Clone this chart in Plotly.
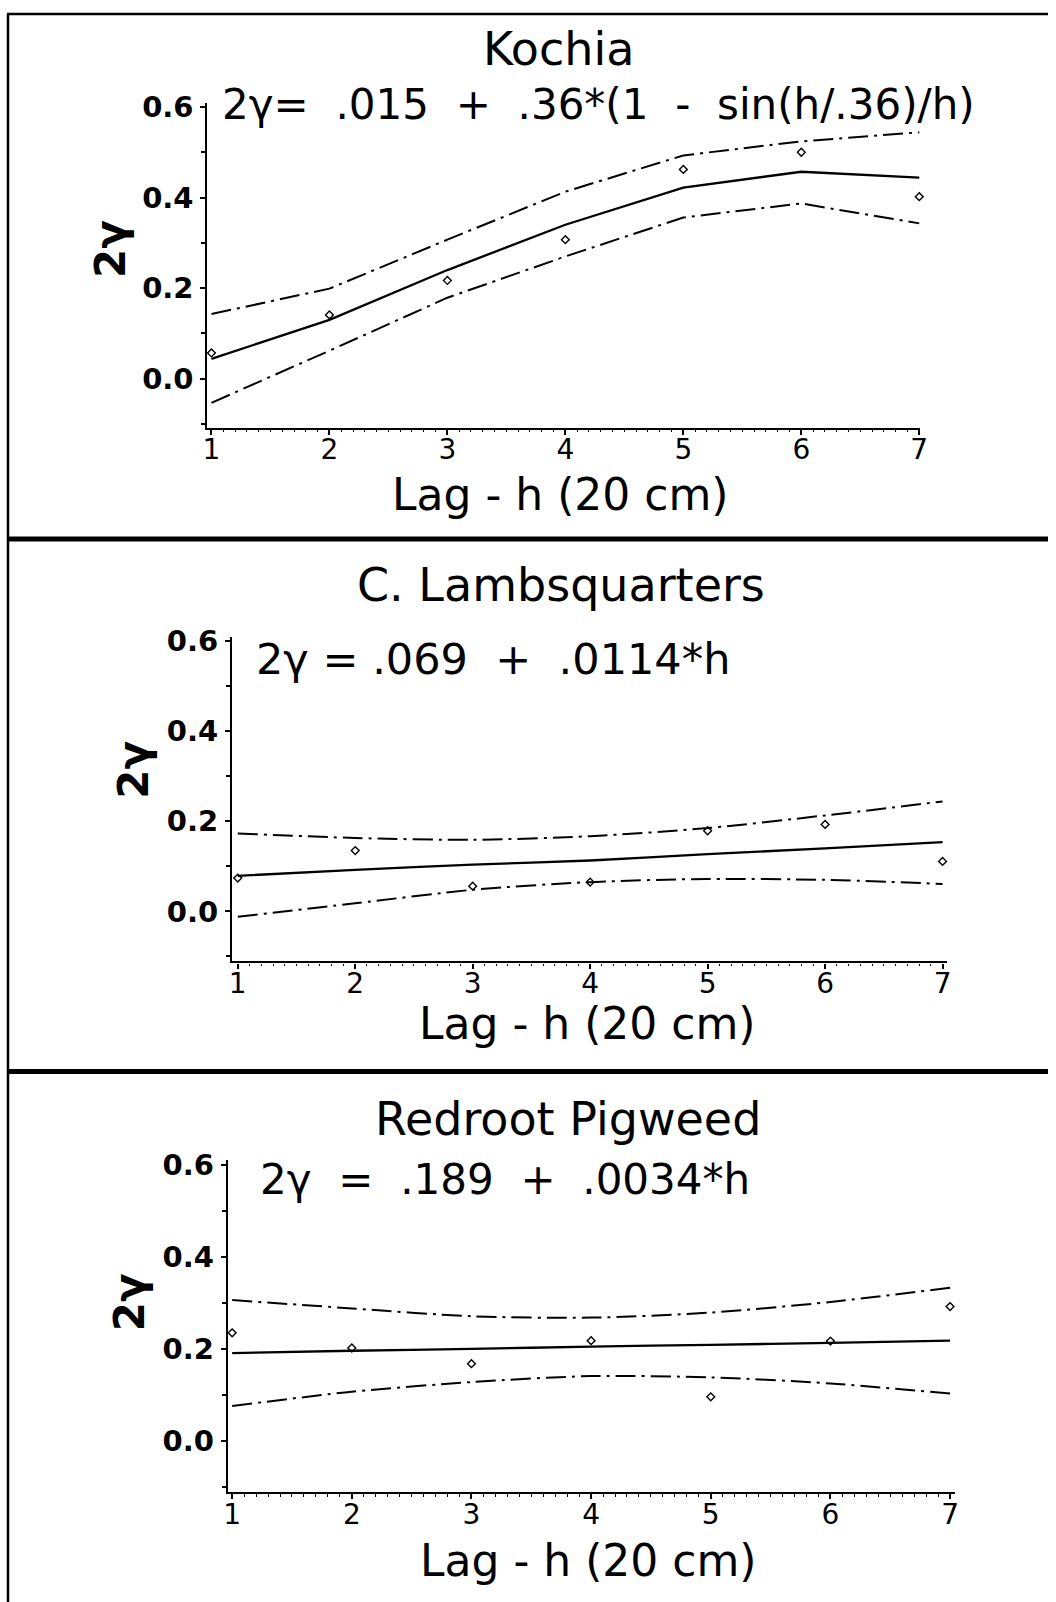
import plotly.graph_objects as go

# ---------------- data ----------------
lag = [1, 2, 3, 4, 5, 6, 7]

kochia_obs = [0.057, 0.141, 0.217, 0.307, 0.462, 0.500, 0.402]
kochia_fit = [0.044, 0.130, 0.240, 0.340, 0.422, 0.457, 0.444]
kochia_upper = [0.143, 0.199, 0.307, 0.413, 0.493, 0.524, 0.544]
kochia_lower = [-0.053, 0.062, 0.179, 0.270, 0.356, 0.387, 0.343]

lamb_obs = [0.074, 0.135, 0.056, 0.065, 0.179, 0.193, 0.111]
lamb_fit = [0.079, 0.092, 0.104, 0.113, 0.127, 0.140, 0.154]
lamb_upper = [0.173, 0.163, 0.159, 0.167, 0.185, 0.213, 0.244]
lamb_lower = [-0.012, 0.018, 0.048, 0.065, 0.072, 0.070, 0.061]

pig_obs = [0.235, 0.202, 0.168, 0.218, 0.096, 0.217, 0.292]
pig_fit = [0.191, 0.196, 0.200, 0.205, 0.209, 0.213, 0.218]
pig_upper = [0.306, 0.288, 0.271, 0.268, 0.279, 0.302, 0.333]
pig_lower = [0.076, 0.107, 0.128, 0.141, 0.138, 0.125, 0.103]

titles = ["Kochia", "C. Lambsquarters", "Redroot Pigweed"]
equations = [
    "2\u03b3=  .015  +  .36*(1  -  sin(h/.36)/h)",
    "2\u03b3 = .069  +  .0114*h",
    "2\u03b3  =  .189  +  .0034*h",
]
eq_sizes = [42, 43, 42]
x_title = "Lag - h (20 cm)"
y_title = "2\u03b3"
y_tickvals = [0.0, 0.2, 0.4, 0.6]
y_ticktext = ["0.0", "0.2", "0.4", "0.6"]

# ---------------- layout geometry (pixels) ----------------
W, H = 1056, 1602
# the photographed page shows the figure slightly scaled and shifted;
# map wanted picture pixels back to figure pixels
AX, BX, AY, BY = 0.988, 4.5, 0.9906, 12.8


def fx(p):
    v = ((p - BX) / AX) / W
    return min(max(v, 0.0), 1.0)


def fy(p):
    v = 1 - ((p - BY) / AY) / H
    return min(max(v, 0.0), 1.0)


panels = [
    dict(obs=kochia_obs, fit=kochia_fit, up=kochia_upper, lo=kochia_lower,
         xdom=(207, 920), ydom=(103, 427), xr=(0.966, 7.008), yr=(-0.108, 0.608),
         shape="linear", title_xy=(558, 49), eq_xy=(220, 104),
         xt_xy=(560, 494), yt_xy=(110, 248)),
    dict(obs=lamb_obs, fit=lamb_fit, up=lamb_upper, lo=lamb_lower,
         xdom=(231.7, 946.7), ydom=(636, 960), xr=(0.952, 7.037), yr=(-0.111, 0.609),
         shape="spline", title_xy=(561, 584), eq_xy=(254, 658),
         xt_xy=(587, 1022), yt_xy=(133, 768)),
    dict(obs=pig_obs, fit=pig_fit, up=pig_upper, lo=pig_lower,
         xdom=(227.3, 955), ydom=(1158, 1490), xr=(0.963, 7.043), yr=(-0.111, 0.611),
         shape="spline", title_xy=(568, 1117), eq_xy=(258, 1178),
         xt_xy=(588, 1558), yt_xy=(129, 1300)),
]

FONT = "DejaVu Sans"
fig = go.Figure()
annotations = []
shapes = []

for i, p in enumerate(panels):
    n = "" if i == 0 else str(i + 1)
    xa, ya = "x" + n, "y" + n
    dash = "20px,6px,3px,6px"
    for band in (p["up"], p["lo"]):
        fig.add_trace(go.Scatter(x=lag, y=band, mode="lines", xaxis=xa, yaxis=ya,
                                 line=dict(color="black", width=2, dash=dash, shape=p["shape"], smoothing=0.8),
                                 showlegend=False, hoverinfo="skip"))
    fig.add_trace(go.Scatter(x=lag, y=p["fit"], mode="lines", xaxis=xa, yaxis=ya,
                             line=dict(color="black", width=2.3, shape=p["shape"], smoothing=0.8),
                             showlegend=False, hoverinfo="skip"))
    fig.add_trace(go.Scatter(x=lag, y=p["obs"], mode="markers", xaxis=xa, yaxis=ya,
                             marker=dict(symbol="diamond-open", size=6, color="black",
                                         line=dict(color="black", width=1.4)),
                             showlegend=False, hoverinfo="skip", cliponaxis=False))

    xkey = "xaxis" + n
    ykey = "yaxis" + n
    fig.layout[xkey] = dict(
        domain=[fx(p["xdom"][0]), fx(p["xdom"][1])], range=list(p["xr"]),
        anchor=ya, showline=True, linecolor="black", linewidth=2.2,
        showgrid=False, zeroline=False, tickmode="array", tickvals=lag,
        ticktext=[str(v) for v in lag],
        ticks="outside", ticklen=5, tickwidth=1.8, tickcolor="black",
        tickfont=dict(family=FONT, size=28, color="black"),
        ticklabelstandoff=-9,
        minor=dict(dtick=0.1, tick0=0, ticks="outside", ticklen=2.5, tickwidth=1.2, tickcolor="black"),
    )
    fig.layout[ykey] = dict(
        domain=[fy(p["ydom"][1]), fy(p["ydom"][0])], range=list(p["yr"]),
        anchor=xa, showline=True, linecolor="black", linewidth=2.2,
        showgrid=False, zeroline=False, tickmode="array", tickvals=y_tickvals,
        ticktext=y_ticktext,
        ticks="outside", ticklen=5, tickwidth=1.8, tickcolor="black",
        tickfont=dict(family=FONT, size=29, color="black", weight="bold"),
        ticklabelstandoff=1,
        minor=dict(dtick=0.1, tick0=0, ticks="outside", ticklen=4, tickwidth=1.5, tickcolor="black"),
    )

    annotations.append(dict(text=titles[i], x=fx(p["title_xy"][0]), y=fy(p["title_xy"][1]),
                            xref="paper", yref="paper", xanchor="center", yanchor="middle",
                            showarrow=False, font=dict(family=FONT, size=46, color="black")))
    annotations.append(dict(text=equations[i], x=fx(p["eq_xy"][0]), y=fy(p["eq_xy"][1]),
                            xref="paper", yref="paper", xanchor="left", yanchor="middle",
                            showarrow=False, font=dict(family=FONT, size=eq_sizes[i], color="black")))
    annotations.append(dict(text=x_title, x=fx(p["xt_xy"][0]), y=fy(p["xt_xy"][1]),
                            xref="paper", yref="paper", xanchor="center", yanchor="middle",
                            showarrow=False, font=dict(family=FONT, size=44, color="black")))
    annotations.append(dict(text=y_title, x=fx(p["yt_xy"][0]), y=fy(p["yt_xy"][1]),
                            xref="paper", yref="paper", xanchor="center", yanchor="middle",
                            textangle=-90, showarrow=False,
                            font=dict(family=FONT, size=42, color="black", weight="bold")))

# frame lines
shapes.append(dict(type="line", xref="paper", yref="paper", x0=fx(7.5), x1=fx(7.5), y0=0, y1=0.9995,
                   line=dict(color="black", width=2.5)))
shapes.append(dict(type="line", xref="paper", yref="paper", x0=fx(6.5), x1=1, y0=0.9993, y1=0.9993,
                   line=dict(color="black", width=2.5)))
for yy in (538, 1070):
    shapes.append(dict(type="line", xref="paper", yref="paper", x0=fx(6.5), x1=1, y0=fy(yy), y1=fy(yy),
                       line=dict(color="black", width=5)))

fig.update_layout(width=W, height=H, margin=dict(l=0, r=0, t=0, b=0),
                  paper_bgcolor="white", plot_bgcolor="white",
                  annotations=annotations, shapes=shapes, showlegend=False)

fig.write_html("out.html", config={"displayModeBar": False},
               post_script="document.body.style.margin='0';document.body.style.padding='0';"
                           "document.body.style.overflow='hidden';")
